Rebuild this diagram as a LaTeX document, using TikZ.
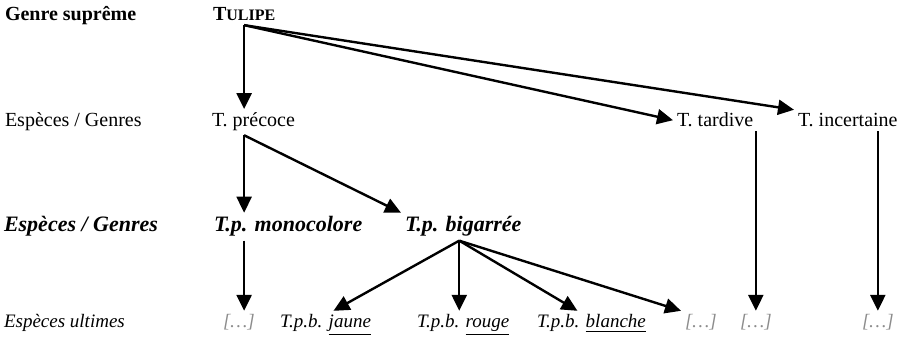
\documentclass[tikz,border=0pt]{standalone}
\usepackage{fontspec}
\setmainfont{Liberation Serif}
\usetikzlibrary{arrows.meta}
\definecolor{dotgray}{RGB}{140,140,140}
\begin{document}
\begin{tikzpicture}[x=0.5pt, y=-0.5pt,
  lbl/.style={anchor=base west, inner sep=0pt, outer sep=2pt, font=\fontsize{10}{12}\selectfont},
  top/.style={lbl, font=\fontsize{10}{12}\selectfont\bfseries},
  mid/.style={lbl, font=\fontsize{11}{13}\selectfont\bfseries\itshape},
  low/.style={lbl, font=\fontsize{9.5}{11}\selectfont\itshape},
  dots/.style={low, text=dotgray},
  arr/.style={line width=1.2pt, -{Triangle[length=8pt,width=7.5pt]}}]
\useasboundingbox (0,0) rectangle (905,347);
\node [top] (genre) at (1,21) {Genre suprême};
\node [top] (tulipe) at (209,21) {T{\fontsize{8}{10}\selectfont ULIPE}};
\node [lbl] (especes) at (1,127) {Espèces / Genres};
\node [lbl] (precoce) at (208,127) {T. précoce};
\node [lbl] (tardive) at (673,127) {T. tardive};
\node [lbl] (incertaine) at (794,127) {T. incertaine};
\node [mid] (especesbis) at (0,232) {Espèces / Genres};
\node [mid] (mono) at (210,232) {T.p. monocolore};
\node [mid] (bigarree) at (401,232) {T.p. bigarrée};
\node [low] (ultimes) at (0,328) {Espèces ultimes};
\node [dots] (dotsA) at (219,328) {[…]};
\node [low] (jaune) at (276,328) {T.p.b. \underline{jaune}};
\node [low] (rouge) at (413,328) {T.p.b. \underline{rouge}};
\node [low] (blanche) at (533,328) {T.p.b. \underline{blanche}};
\node [dots] (dotsB) at (681,328) {[…]};
\node [dots] (dotsC) at (736,328) {[…]};
\node [dots] (dotsD) at (858,328) {[…]};
\draw [arr] (tulipe.south) -- (precoce.north -| tulipe.south);
\draw [arr] (tulipe.south) -- (tardive.west);
\draw [arr] (tulipe.south) -- (incertaine.north west);
\draw [arr] (precoce.south -| tulipe.south) -- (mono.north -| tulipe.south);
\draw [arr] (precoce.south -| tulipe.south) -- (bigarree.north west);
\draw [arr] (mono.south -| tulipe.south) -- (dotsA.north -| tulipe.south);
\draw [arr] ([xshift=-2pt]bigarree.south) -- ([xshift=4pt]jaune.north);
\draw [arr] ([xshift=-2pt]bigarree.south) -- ([xshift=-2pt]bigarree.south |- rouge.north);
\draw [arr] ([xshift=-2pt]bigarree.south) -- ([xshift=-7pt]blanche.north);
\draw [arr] ([xshift=-2pt]bigarree.south) -- (dotsB.north west);
\draw [arr] (dotsC.north |- tardive.south) -- (dotsC.north);
\draw [arr] (dotsD.north |- incertaine.south) -- (dotsD.north);
\end{tikzpicture}
\end{document}
